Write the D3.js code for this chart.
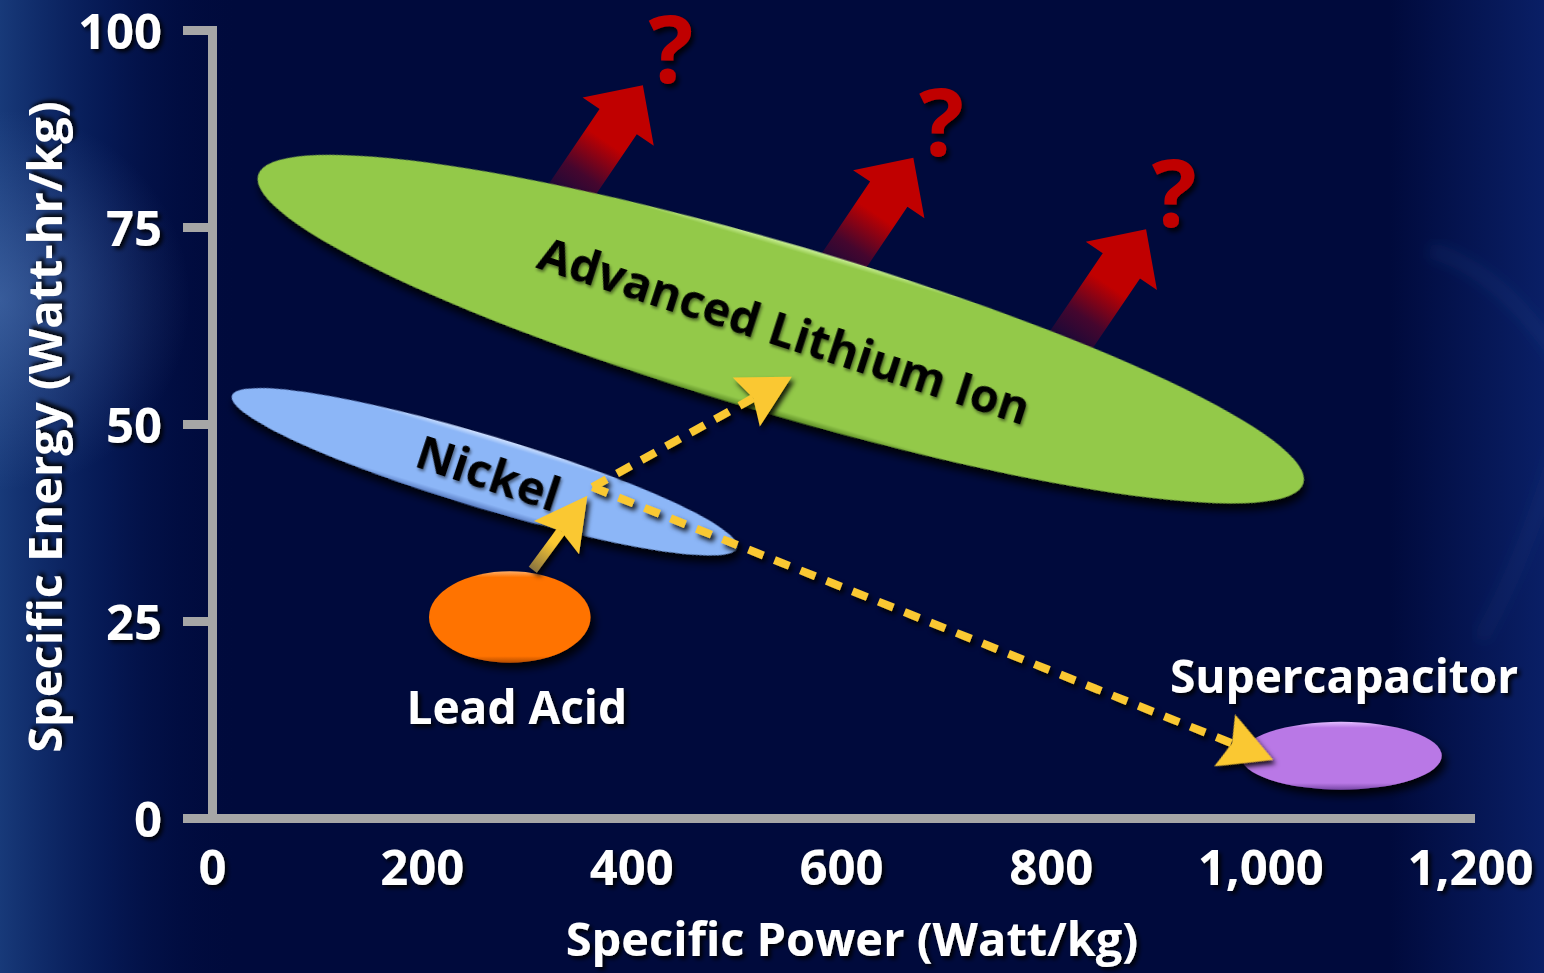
<!DOCTYPE html>
<html>
<head>
<meta charset="utf-8">
<script src="https://cdn.jsdelivr.net/npm/d3@7"></script>
<style>
  html, body { margin: 0; padding: 0; background: #000a3c; overflow: hidden; }
  svg { display: block; }
  text { font-family: "Open Sans", "Noto Sans", sans-serif; }
</style>
</head>
<body>
<svg id="chart" width="1544" height="973"></svg>
<script>
// ---------- data ----------
const xTicks = [0, 200, 400, 600, 800, 1000, 1200];
const yTicks = [0, 25, 50, 75, 100];
const xTitle = "Specific Power (Watt/kg)";
const yTitle = "Specific Energy (Watt-hr/kg)";

// tilted chemistry bands: low-power tip and high-power tip as [power, energy],
// plus the band's half thickness in Wh/kg
const bandNames = ["Advanced Lithium Ion", "Nickel"];
const bandLow = [[44, 81.6], [19, 53.6]];
const bandHigh = [[1041, 42.5], [501, 34.3]];
const bandSpread = [11.2, 4.8];

// upright regions: [min, max] of power and of energy
const ovalNames = ["Lead Acid", "Supercapacitor"];
const ovalPower = [[207, 361], [981, 1173]];
const ovalEnergy = [[19.7, 31.3], [3.6, 12.2]];

// development paths: lead acid -> nickel, then nickel -> lithium ion / supercapacitor
const stepFrom = [[306, 31.5]];
const stepTo = [[358, 40.9]];
const branchFrom = [[363, 42.0], [363, 42.0]];
const branchTo = [[553, 56.0], [1012, 7.4]];

// open questions beyond lithium ion
const outlookFrom = [[331, 77.3], [589, 68.0], [811, 59.0]];
const outlookTo = [[411, 93.0], [669, 83.8], [891, 74.7]];
const outlookMark = ["?", "?", "?"];

// ---------- styles ----------
const palette = {
  "Advanced Lithium Ion": { base: "#93c94a", light: "#cdf29a", dark: "#5c8c26" },
  "Nickel":               { base: "#8cb6f7", light: "#d2e3ff", dark: "#5a7ec4" },
  "Lead Acid":            { base: "#ff7300", light: "#ffae66", dark: "#b34b00" },
  "Supercapacitor":       { base: "#b978e6", light: "#e3bdff", dark: "#7848a6" }
};
const AXIS = "#a6a6a6", YELLOW = "#fac832", RED = "#c00000";

const W = 1544, H = 973;
const x = d3.scaleLinear().domain([0, 1200]).range([212, 1470]);
const y = d3.scaleLinear().domain([0, 100]).range([818, 30]);

const svg = d3.select("#chart");
const defs = svg.append("defs");

function dropShadow(id, dx, dy, sd, op) {
  const f = defs.append("filter").attr("id", id)
    .attr("x", "-30%").attr("y", "-30%").attr("width", "160%").attr("height", "170%");
  f.append("feDropShadow").attr("dx", dx).attr("dy", dy).attr("stdDeviation", sd)
    .attr("flood-color", "#000").attr("flood-opacity", op);
}
dropShadow("shapeShadow", 4, 6, 4, 0.9);
dropShadow("textShadow", 3, 3, 2, 0.9);
dropShadow("inkShadow", 2, 2, 1.5, 0.45);
dropShadow("markShadow", 3, 4, 2.5, 0.85);

// ---------- background ----------
svg.append("rect").attr("width", W).attr("height", H).attr("fill", "#000a3c");

const leftGlow = defs.append("linearGradient").attr("id", "leftGlow")
  .attr("gradientUnits", "userSpaceOnUse").attr("x1", 0).attr("y1", 0).attr("x2", 240).attr("y2", 0);
leftGlow.append("stop").attr("offset", 0).attr("stop-color", "#1c4284").attr("stop-opacity", 0.85);
leftGlow.append("stop").attr("offset", 0.45).attr("stop-color", "#0c2a70").attr("stop-opacity", 0.45);
leftGlow.append("stop").attr("offset", 1).attr("stop-color", "#000a3c").attr("stop-opacity", 0);
svg.append("rect").attr("width", 240).attr("height", H).attr("fill", "url(#leftGlow)");

const spot = defs.append("radialGradient").attr("id", "leftSpot")
  .attr("gradientUnits", "userSpaceOnUse").attr("cx", 0).attr("cy", 300).attr("r", 190);
spot.append("stop").attr("offset", 0).attr("stop-color", "#5f86c4").attr("stop-opacity", 0.45);
spot.append("stop").attr("offset", 1).attr("stop-color", "#5f86c4").attr("stop-opacity", 0);
svg.append("rect").attr("width", 260).attr("height", 600).attr("fill", "url(#leftSpot)");

const rightGlow = defs.append("linearGradient").attr("id", "rightGlow")
  .attr("gradientUnits", "userSpaceOnUse").attr("x1", 1390).attr("y1", 0).attr("x2", W).attr("y2", 0);
rightGlow.append("stop").attr("offset", 0).attr("stop-color", "#0c2470").attr("stop-opacity", 0);
rightGlow.append("stop").attr("offset", 1).attr("stop-color", "#0c2470").attr("stop-opacity", 0.8);
svg.append("rect").attr("x", 1390).attr("width", W - 1390).attr("height", H).attr("fill", "url(#rightGlow)");

const haze = defs.append("filter").attr("id", "haze");
haze.append("feGaussianBlur").attr("stdDeviation", 7);
svg.append("path").attr("d", "M1430,250 Q1500,270 1560,360")
  .attr("fill", "none").attr("stroke", "#3a5aa0").attr("stroke-opacity", 0.14)
  .attr("stroke-width", 16).attr("filter", "url(#haze)");
svg.append("path").attr("d", "M1560,440 Q1525,560 1480,640")
  .attr("fill", "none").attr("stroke", "#3a5aa0").attr("stroke-opacity", 0.1)
  .attr("stroke-width", 16).attr("filter", "url(#haze)");

// ---------- axes ----------
const textColor = "#ffffff";
const yAxis = svg.append("g").attr("transform", `translate(${x(0)},0)`)
  .call(d3.axisLeft(y).tickValues(yTicks).tickSizeInner(29).tickSizeOuter(0).tickPadding(21));
const xAxis = svg.append("g").attr("transform", `translate(0,${y(0)})`)
  .call(d3.axisBottom(x).tickValues(xTicks).tickSizeInner(0).tickSizeOuter(0).tickPadding(32)
    .tickFormat(d3.format(",")));

[yAxis, xAxis].forEach(g => {
  g.select(".domain").attr("stroke", AXIS).attr("stroke-width", 9).attr("stroke-linecap", "square");
  g.selectAll(".tick line").attr("stroke", AXIS).attr("stroke-width", 9);
  g.selectAll(".tick text").attr("fill", textColor).attr("font-size", 49).attr("font-weight", 700)
    .attr("font-family", "'Open Sans', sans-serif").attr("filter", "url(#textShadow)");
});
yAxis.selectAll(".tick text").attr("dy", "0.37em");

svg.append("text").attr("x", 852).attr("y", 956).attr("text-anchor", "middle")
  .attr("fill", textColor).attr("font-size", 47).attr("font-weight", 700)
  .attr("filter", "url(#textShadow)").text(xTitle);
svg.append("text").attr("transform", "translate(62,427) rotate(-90)").attr("text-anchor", "middle")
  .attr("fill", textColor).attr("font-size", 47).attr("font-weight", 700)
  .attr("filter", "url(#textShadow)").text(yTitle);

// ---------- helpers ----------
const pt = d => [x(d[0]), y(d[1])];
function bevel(id, name, ry) {
  const c = palette[name];
  const rim = Math.min(0.12, 6 / (2 * ry));
  const g = defs.append("linearGradient").attr("id", id)
    .attr("x1", 0).attr("y1", 0).attr("x2", 0).attr("y2", 1);
  g.append("stop").attr("offset", 0).attr("stop-color", c.light);
  g.append("stop").attr("offset", rim).attr("stop-color", c.base);
  g.append("stop").attr("offset", 1 - rim * 1.1).attr("stop-color", c.base);
  g.append("stop").attr("offset", 1).attr("stop-color", c.dark);
  return `url(#${id})`;
}
function angleOf(a, b) { return Math.atan2(b[1] - a[1], b[0] - a[0]); }

// ---------- outlook arrows (behind the lithium band) ----------
const outlook = svg.append("g").attr("class", "outlook");
outlookFrom.forEach((f, i) => {
  const p0 = pt(f), p1 = pt(outlookTo[i]);
  const len = Math.hypot(p1[0] - p0[0], p1[1] - p0[1]);
  const deg = angleOf(p0, p1) * 180 / Math.PI;
  const hl = 44, sw = 22.5, hw = 43;
  const gid = "outlookFill" + i;
  const g = defs.append("linearGradient").attr("id", gid).attr("gradientUnits", "userSpaceOnUse")
    .attr("x1", 0).attr("y1", 0).attr("x2", len).attr("y2", 0);
  g.append("stop").attr("offset", 0).attr("stop-color", "#0a0a3c");
  g.append("stop").attr("offset", 0.28).attr("stop-color", "#45062e");
  g.append("stop").attr("offset", 0.55).attr("stop-color", RED);
  g.append("stop").attr("offset", 1).attr("stop-color", RED);
  outlook.append("path")
    .attr("transform", `translate(${p0[0]},${p0[1]}) rotate(${deg})`)
    .attr("d", `M0,${-sw} L${len - hl},${-sw} L${len - hl},${-hw} L${len},0 L${len - hl},${hw} L${len - hl},${sw} L0,${sw} Z`)
    .attr("fill", `url(#${gid})`);
  outlook.append("text")
    .attr("x", p1[0] + 28).attr("y", p1[1] - 2).attr("text-anchor", "middle")
    .attr("fill", RED).attr("font-size", 94).attr("font-weight", 700)
    .attr("filter", "url(#markShadow)").text(outlookMark[i]);
});

// ---------- tilted bands ----------
const bands = svg.append("g").attr("class", "bands");
bandNames.forEach((name, i) => {
  const a0 = pt(bandLow[i]), a1 = pt(bandHigh[i]);
  const cx = (a0[0] + a1[0]) / 2, cy = (a0[1] + a1[1]) / 2;
  const th = angleOf(a0, a1);
  const a = Math.hypot(a1[0] - a0[0], a1[1] - a0[1]) / 2;
  const h = y(0) - y(bandSpread[i]);            // vertical half chord through the centre
  const b = Math.cos(th) / Math.sqrt(1 / (h * h) - Math.pow(Math.sin(th) / a, 2));
  const deg = th * 180 / Math.PI;
  const g = bands.append("g").attr("transform", `translate(${cx},${cy}) rotate(${deg})`);
  g.append("ellipse").attr("rx", a).attr("ry", b)
    .attr("fill", bevel("bandFill" + i, name, b)).attr("filter", "url(#shapeShadow)");
  g.append("text").attr("transform", "rotate(1.5)").attr("x", 4).attr("y", 0).attr("dy", "0.36em")
    .attr("text-anchor", "middle")
    .attr("fill", "#000").attr("font-size", 47).attr("font-weight", 700)
    .attr("filter", "url(#inkShadow)").text(name);
});

// ---------- upright regions ----------
const ovals = svg.append("g").attr("class", "ovals");
ovalNames.forEach((name, i) => {
  const cx = x((ovalPower[i][0] + ovalPower[i][1]) / 2);
  const cy = y((ovalEnergy[i][0] + ovalEnergy[i][1]) / 2);
  const rx = (x(ovalPower[i][1]) - x(ovalPower[i][0])) / 2;
  const ry = (y(ovalEnergy[i][0]) - y(ovalEnergy[i][1])) / 2;
  ovals.append("ellipse").attr("cx", cx).attr("cy", cy).attr("rx", rx).attr("ry", ry)
    .attr("fill", bevel("ovalFill" + i, name, ry)).attr("filter", "url(#shapeShadow)");
  const below = i === 0;
  ovals.append("text")
    .attr("x", cx + (below ? 7 : 3))
    .attr("y", below ? cy + ry + 61 : cy - ry - 29)
    .attr("text-anchor", "middle").attr("fill", textColor)
    .attr("font-size", 46).attr("font-weight", 700)
    .attr("filter", "url(#textShadow)").text(name);
});

// ---------- development paths ----------
const HEAD_L = 52, HEAD_W = 56, NOTCH = 8;
const headPath = `M0,0 L${-HEAD_L},${-HEAD_W / 2} L${-HEAD_L + NOTCH},0 L${-HEAD_L},${HEAD_W / 2} Z`;
const paths = svg.append("g").attr("class", "paths").attr("filter", "url(#markShadow)");

function head(tip, th) {
  paths.append("path")
    .attr("transform", `translate(${tip[0]},${tip[1]}) rotate(${th * 180 / Math.PI})`)
    .attr("d", headPath).attr("fill", YELLOW);
}

stepFrom.forEach((f, i) => {
  const p0 = pt(f), p1 = pt(stepTo[i]);
  const th = angleOf(p0, p1);
  const back = [p1[0] - (HEAD_L - NOTCH) * Math.cos(th), p1[1] - (HEAD_L - NOTCH) * Math.sin(th)];
  const gid = "stepFill" + i;
  const g = defs.append("linearGradient").attr("id", gid).attr("gradientUnits", "userSpaceOnUse")
    .attr("x1", p0[0]).attr("y1", p0[1]).attr("x2", back[0]).attr("y2", back[1]);
  g.append("stop").attr("offset", 0).attr("stop-color", "#8a7440");
  g.append("stop").attr("offset", 0.7).attr("stop-color", YELLOW);
  paths.append("line").attr("x1", p0[0]).attr("y1", p0[1]).attr("x2", back[0]).attr("y2", back[1])
    .attr("stroke", `url(#${gid})`).attr("stroke-width", 10);
  head(p1, th);
});

branchFrom.forEach((f, i) => {
  const p0 = pt(f), p1 = pt(branchTo[i]);
  const th = angleOf(p0, p1);
  const back = [p1[0] - (HEAD_L - NOTCH) * Math.cos(th), p1[1] - (HEAD_L - NOTCH) * Math.sin(th)];
  paths.append("line").attr("x1", p0[0]).attr("y1", p0[1]).attr("x2", back[0]).attr("y2", back[1])
    .attr("stroke", YELLOW).attr("stroke-width", 8).attr("stroke-dasharray", "16,12");
  head(p1, th);
});
</script>
</body>
</html>
